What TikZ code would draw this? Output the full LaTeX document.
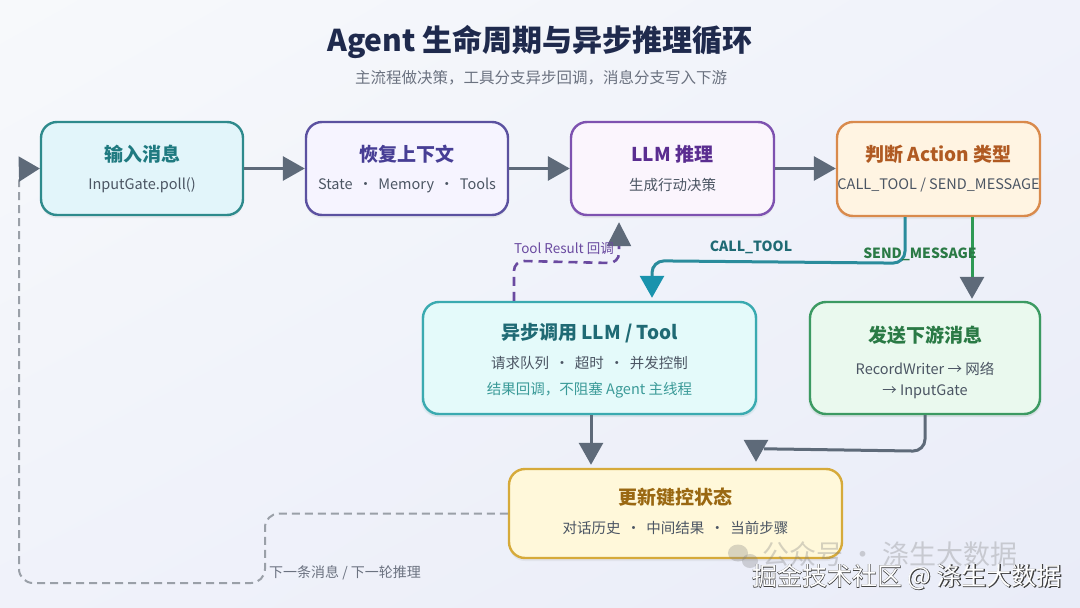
\documentclass[tikz,border=0pt]{standalone}
\usepackage{fontspec}
\setmainfont{Noto Sans CJK SC}
\newfontfamily\wmoutline[FakeBold=3]{Noto Sans CJK SC}
\usetikzlibrary{arrows.meta,shadows,calc,shadings}
\definecolor{bgtop}{HTML}{F7F9FB}
\definecolor{bgbot}{HTML}{E9ECF8}
\definecolor{titlec}{HTML}{1F2A4D}
\definecolor{subc}{HTML}{6B7280}
\definecolor{txtc}{HTML}{4B5563}
\definecolor{arrc}{HTML}{5E6A79}
\definecolor{aFill}{HTML}{E2F5FA}\definecolor{aDraw}{HTML}{2E8A8C}\definecolor{aText}{HTML}{1F7A80}
\definecolor{bFill}{HTML}{F6F4FF}\definecolor{bDraw}{HTML}{5B51A0}\definecolor{bText}{HTML}{473E95}
\definecolor{cFill}{HTML}{FBF5FD}\definecolor{cDraw}{HTML}{7E52B0}\definecolor{cText}{HTML}{5A2D90}
\definecolor{dFill}{HTML}{FFF4E2}\definecolor{dDraw}{HTML}{D98A4C}\definecolor{dText}{HTML}{B05A22}
\definecolor{eFill}{HTML}{E4FAFA}\definecolor{eDraw}{HTML}{3AAAB0}\definecolor{eText}{HTML}{1F6A74}\definecolor{eSub}{HTML}{3A9A98}
\definecolor{fFill}{HTML}{EAF9EE}\definecolor{fDraw}{HTML}{3C9A62}\definecolor{fText}{HTML}{2A7A45}
\definecolor{gFill}{HTML}{FFF8DA}\definecolor{gDraw}{HTML}{D6AA3A}\definecolor{gText}{HTML}{9A6812}
\definecolor{callc}{HTML}{2A8C9C}\definecolor{callh}{HTML}{1A93AD}
\definecolor{sendc}{HTML}{2E9A55}
\definecolor{toolc}{HTML}{6A4AA0}
\definecolor{loopc}{HTML}{9AA0A8}
\definecolor{bgmid}{HTML}{F0F2FA}
\tikzset{
  boxst/.style={draw, rounded corners=16pt, line width=2.4pt, inner sep=0pt,
    drop shadow={opacity=0.10, shadow xshift=0pt, shadow yshift=-3pt}},
  btitle/.style={font=\fontsize{19}{22}\selectfont\bfseries, inner sep=0pt},
  bsub/.style={font=\fontsize{14.5}{17}\selectfont, text=txtc, inner sep=0pt},
  gtip/.style={-{Triangle[length=22pt,width=24pt]}},
  garrow/.style={draw=arrc, line width=3pt, gtip, color=arrc},
  lbl/.style={inner sep=0pt},
}
\begin{document}
\begin{tikzpicture}[x=1pt,y=-1pt]
\useasboundingbox (0,0) rectangle (1080,608);
\shade[upper left=bgtop, upper right=bgmid, lower left=bgmid, lower right=bgbot] (0,0) rectangle (1080,608);

% title
\node[lbl, font=\fontsize{30}{34}\selectfont\bfseries, text=titlec] (title) at (540,42) {Agent 生命周期与异步推理循环};
\node[lbl, font=\fontsize{15.5}{18}\selectfont, text=subc] (subtitle) at (541,78) {主流程做决策，工具分支异步回调，消息分支写入下游};

% boxes
\node[boxst, fill=aFill, draw=aDraw, minimum width=202pt, minimum height=93pt] (b1) at (142,168.5) {};
\node[boxst, fill=bFill, draw=bDraw, minimum width=202pt, minimum height=93pt] (b2) at (407,168.5) {};
\node[boxst, fill=cFill, draw=cDraw, minimum width=203pt, minimum height=93pt] (b3) at (672.5,168.5) {};
\node[boxst, fill=dFill, draw=dDraw, minimum width=203pt, minimum height=94pt] (b4) at (938.5,169) {};
\node[boxst, fill=eFill, draw=eDraw, minimum width=333pt, minimum height=112pt,
      drop shadow={opacity=0.18, color=eDraw!60, shadow xshift=0pt, shadow yshift=-2pt, shadow scale=1.012}] (b5) at (589.5,358) {};
\node[boxst, fill=fFill, draw=fDraw, minimum width=230pt, minimum height=112pt,
      drop shadow={opacity=0.15, color=fDraw!60, shadow xshift=0pt, shadow yshift=-2pt, shadow scale=1.015}] (b6) at (925,358) {};
\node[boxst, fill=gFill, draw=gDraw, minimum width=333pt, minimum height=89pt] (b7) at (675.5,513.5) {};

% box texts
\node[btitle, text=aText] (t1) at (142,154) {输入消息};
\node[bsub] (s1) at (142,185) {InputGate.poll()};
\node[btitle, text=bText] (t2) at (407,154) {恢复上下文};
\node[bsub] (s2) at (407,185) {State \,·\, Memory \,·\, Tools};
\node[btitle, text=cText] (t3) at (672.5,154) {LLM 推理};
\node[bsub] (s3) at (672.5,185) {生成行动决策};
\node[btitle, text=dText] (t4) at (938.5,154) {判断 Action 类型};
\node[bsub] (s4) at (938.5,185) {CALL\_TOOL / SEND\_MESSAGE};
\node[btitle, text=eText] (t5) at (589.5,333) {异步调用 LLM / Tool};
\node[bsub] (s5) at (589.5,363) {请求队列 \,·\, 超时 \,·\, 并发控制};
\node[bsub, text=eSub] (u5) at (589.5,390) {结果回调，不阻塞 Agent 主线程};
\node[btitle, text=fText] (t6) at (925,335) {发送下游消息};
\node[bsub] (s6) at (925,369) {RecordWriter → 网络};
\node[bsub] (u6) at (925,392) {→ InputGate};
\node[btitle, text=gText] (t7) at (675.5,497) {更新键控状态};
\node[bsub] (s7) at (675.5,528) {对话历史 \,·\, 中间结果 \,·\, 当前步骤};

% coordinates for vertical lanes
\coordinate (xcall) at (905,0);
\coordinate (xcallin) at (652,0);
\coordinate (xsend) at (972,0);
\coordinate (xtool) at (514,0);
\coordinate (xtoolin) at (619,0);
\coordinate (x57) at (591,0);
\coordinate (x67) at (925,0);
\coordinate (x67in) at (756,0);

% main flow
\draw[garrow] (b1.east) -- (b2.west);
\draw[garrow] (b2.west -| b2.east) -- (b3.west);
\draw[garrow] (b3.east) -- (b4.west |- b3.east);

% CALL_TOOL branch
\draw[draw=callc, line width=3pt, rounded corners=12pt, -{Triangle[length=22pt,width=24pt,color=callh]}]
  (b4.south -| xcall) -- ($(b4.south -| xcall)+(0,46)$) -- ($(b5.north -| xcallin)+(0,-40)$) -- ($(b5.north -| xcallin)+(0,-3)$);
\node[lbl, font=\fontsize{14}{16}\selectfont\bfseries, text=eText] (lcall) at (751,247) {CALL\_TOOL};

% SEND_MESSAGE branch
\draw[draw=sendc, line width=3pt, -{Triangle[length=22pt,width=24pt,color=arrc]}]
  (b4.south -| xsend) -- ($(b6.north -| xsend)+(0,-2)$);
\node[lbl, font=\fontsize{14}{16}\selectfont\bfseries, text=fText] (lsend) at (920,254) {SEND\_MESSAGE};

% Tool result callback
\draw[draw=toolc, line width=2.6pt, dash pattern=on 9pt off 6pt, rounded corners=10pt, -{Triangle[length=24pt,width=24pt,color=arrc]}]
  (b5.north -| xtool) -- ($(b5.north -| xtool)+(0,-40)$) -- ($(b3.south -| xtoolin)+(0,47)$) -- ($(b3.south -| xtoolin)+(0,6)$);
\node[lbl, font=\fontsize{13.5}{15}\selectfont, text=toolc] (ltool) at (564,249) {Tool Result 回调};

% to state update
\draw[garrow] (b5.south -| x57) -- ($(b7.north -| x57)+(0,-3)$);
\draw[draw=arrc, line width=3pt, rounded corners=12pt] (b6.south -| x67) -- ($(b6.south -| x67)+(0,36)$) -- ($(b7.north -| x67in)+(8,-19)$);
\draw[garrow] ($(b7.north -| x67in)+(0,-28)$) -- ($(b7.north -| x67in)+(0,-6)$);

% loop back
\draw[draw=loopc, line width=2pt, dash pattern=on 8pt off 5pt, rounded corners=14pt, -{Triangle[length=21pt,width=25pt,color=arrc]}]
  (b7.west) -- (265,513.5) -- (265,583) -- (19,583) -- (19,169) -- (b1.west);
\node[lbl, font=\fontsize{14}{16}\selectfont, text=subc, anchor=west] (lloop) at (269,573) {下一条消息 / 下一轮推理};

% watermark
\begin{scope}[opacity=0.3]
  \fill[gray] (738,553) ellipse (10pt and 8.5pt);
  \fill[gray] (750,561) ellipse (8pt and 7pt);
\end{scope}
\node[lbl, font=\fontsize{27}{29}\selectfont, text=gray, opacity=0.33, anchor=west] (wm1) at (762,554) {公众号 · 涤生大数据};
\node[lbl, font=\fontsize{25}{27}\selectfont\wmoutline, text=black!75] (wm2o) at (907,577) {掘金技术社区 @ 涤生大数据};
\node[lbl, font=\fontsize{25}{27}\selectfont, text=white] (wm2) at (907,577) {掘金技术社区 @ 涤生大数据};
\end{tikzpicture}
\end{document}
